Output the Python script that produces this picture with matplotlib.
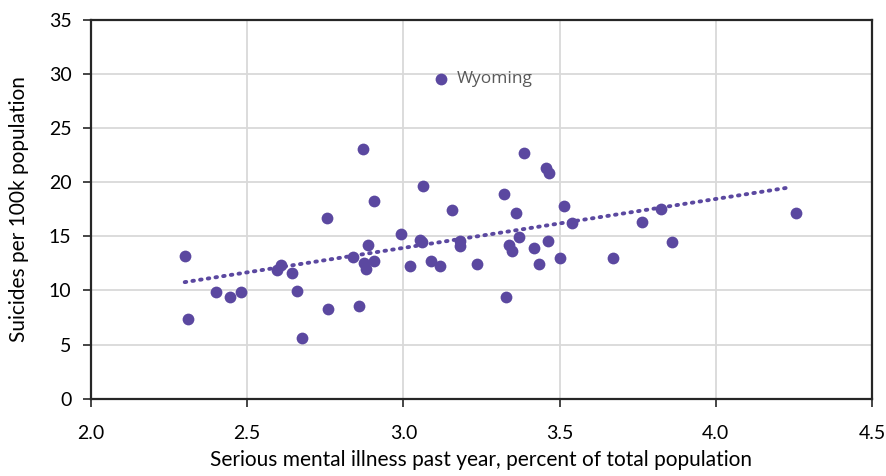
import matplotlib.pyplot as plt
import numpy as np

# serious mental illness (%) vs suicides per 100k, one point per state
smi_pct = [2.30, 2.31, 2.40, 2.445, 2.48, 2.594, 2.608, 2.642, 2.66, 2.676,
           2.756, 2.758, 2.839, 2.859, 2.872, 2.873, 2.881, 2.887, 2.906, 2.906,
           2.992, 3.021, 3.054, 3.058, 3.064, 3.087, 3.116, 3.121, 3.155, 3.18,
           3.18, 3.235, 3.323, 3.327, 3.338, 3.347, 3.361, 3.370, 3.385, 3.419,
           3.433, 3.457, 3.462, 3.466, 3.50, 3.515, 3.540, 3.672, 3.764, 3.826,
           3.86, 4.258]
suicide_rate = [13.2, 7.4, 9.85, 9.4, 9.85, 11.9, 12.4, 11.6, 9.95, 5.64,
                16.73, 8.29, 13.12, 8.57, 23.08, 12.57, 12.02, 14.23, 18.24, 12.73,
                15.19, 12.3, 14.67, 14.45, 19.63, 12.73, 12.3, 29.58, 17.44, 14.55,
                14.11, 12.42, 18.95, 9.4, 14.23, 13.68, 17.13, 14.92, 22.68, 13.96,
                12.42, 21.29, 14.55, 20.86, 13.0, 17.84, 16.21, 13.0, 16.3, 17.56,
                14.51, 17.13]
highlight = 'Wyoming'
highlight_idx = 27

purple = '#5b48a0'
x = np.array(smi_pct)
y = np.array(suicide_rate)

plt.rcParams['font.family'] = ['Lato', 'DejaVu Sans']

fig = plt.figure(figsize=(8.86, 4.76), dpi=100)
ax = fig.add_axes([0.1027, 0.1624, 0.8815, 0.7956])

ax.scatter(x, y, s=72, color=purple, zorder=3, linewidths=0)

# linear trendline over the data range
k, b = np.polyfit(x, y, 1)
tx = np.array([x.min(), 4.23])
ax.plot(tx, k * tx + b, color=purple, lw=2.8, linestyle=(0, (0.4, 1.6)),
        dash_capstyle='round', zorder=2)

ax.annotate(highlight, (x[highlight_idx], y[highlight_idx]), xytext=(11, 0),
            textcoords='offset points', va='center', ha='left',
            fontsize=12.5, color='#595959', family=['Open Sans', 'DejaVu Sans'])

ax.set_xlim(2.0, 4.5)
ax.set_ylim(0, 35)
ax.set_xticks(np.arange(2.0, 4.51, 0.5))
ax.set_yticks(np.arange(0, 36, 5))
ax.set_xticklabels(['%.1f' % v for v in np.arange(2.0, 4.51, 0.5)])
ax.grid(True, color='#d9d9d9', lw=1.3)
ax.set_axisbelow(True)
for s in ax.spines.values():
    s.set_color('#262626')
    s.set_linewidth(1.6)
ax.tick_params(direction='out', length=6, width=1.2, color='#262626',
               labelsize=14, pad=8)
ax.tick_params(axis='x', pad=13)

ax.set_xlabel('Serious mental illness past year, percent of total population',
              fontsize=15, labelpad=6)
ax.set_ylabel('Suicides per 100k population', fontsize=15, labelpad=14)

fig.savefig('out.png', dpi=100)
